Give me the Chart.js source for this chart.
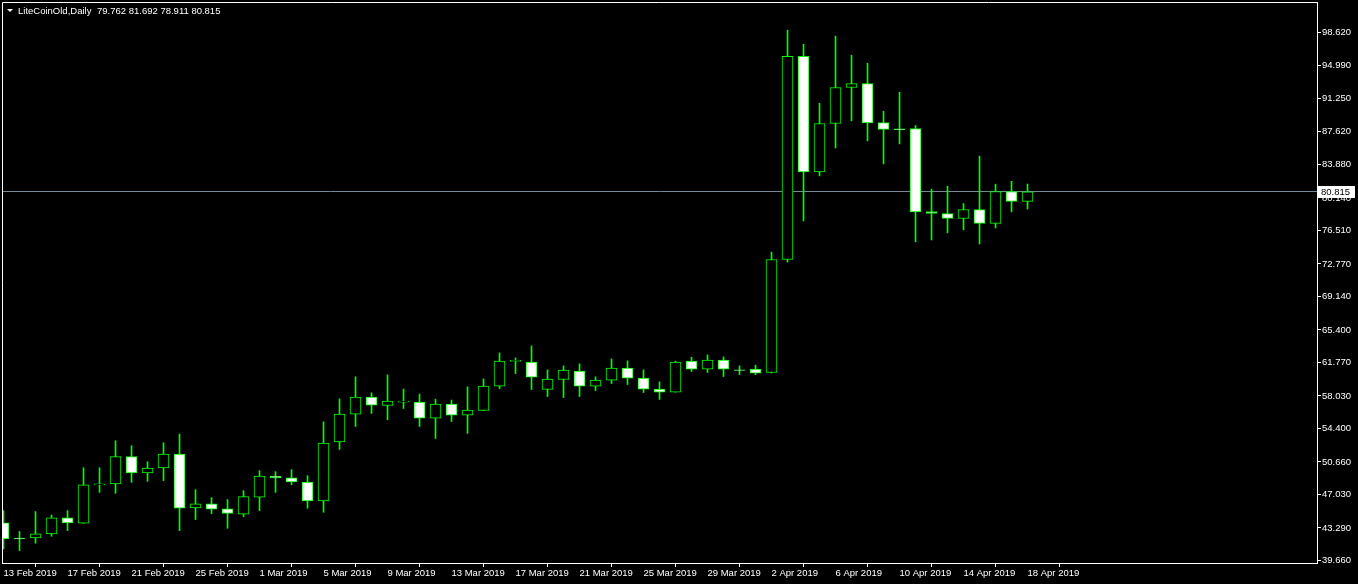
<!DOCTYPE html>
<html>
<head>
<meta charset="utf-8">
<script src="https://cdn.jsdelivr.net/npm/chart.js@4.4.1/dist/chart.umd.min.js"></script>
<style>
  html, body { margin: 0; padding: 0; background: #000; overflow: hidden; }
  canvas { display: block; }
</style>
</head>
<body>
<canvas id="chart" width="1358" height="584"></canvas>
<script>
const symbol = 'LiteCoinOld,Daily';

const days = [
  '13 Feb 2019', '14 Feb 2019', '15 Feb 2019', '16 Feb 2019', '17 Feb 2019', '18 Feb 2019', '19 Feb 2019', '20 Feb 2019',
  '21 Feb 2019', '22 Feb 2019', '23 Feb 2019', '24 Feb 2019', '25 Feb 2019', '26 Feb 2019', '27 Feb 2019', '28 Feb 2019',
  '1 Mar 2019', '2 Mar 2019', '3 Mar 2019', '4 Mar 2019', '5 Mar 2019', '6 Mar 2019', '7 Mar 2019', '8 Mar 2019',
  '9 Mar 2019', '10 Mar 2019', '11 Mar 2019', '12 Mar 2019', '13 Mar 2019', '14 Mar 2019', '15 Mar 2019', '16 Mar 2019',
  '17 Mar 2019', '18 Mar 2019', '19 Mar 2019', '20 Mar 2019', '21 Mar 2019', '22 Mar 2019', '23 Mar 2019', '24 Mar 2019',
  '25 Mar 2019', '26 Mar 2019', '27 Mar 2019', '28 Mar 2019', '29 Mar 2019', '30 Mar 2019', '31 Mar 2019', '1 Apr 2019',
  '2 Apr 2019', '3 Apr 2019', '4 Apr 2019', '5 Apr 2019', '6 Apr 2019', '7 Apr 2019', '8 Apr 2019', '9 Apr 2019',
  '10 Apr 2019', '11 Apr 2019', '12 Apr 2019', '13 Apr 2019', '14 Apr 2019', '15 Apr 2019', '16 Apr 2019', '17 Apr 2019',
  '18 Apr 2019'
];

const opens = [
  43.86, 42.17, 42.19, 42.63, 44.42, 43.82, 48.10, 48.21,
  51.25, 49.43, 49.99, 51.55, 45.53, 45.98, 45.42, 44.82,
  46.72, 49.10, 48.88, 48.43, 46.31, 52.89, 56.01, 57.90,
  56.97, 57.35, 57.35, 55.56, 57.12, 55.90, 56.42, 59.13,
  61.90, 61.81, 58.75, 59.87, 60.80, 59.13, 59.80, 61.14,
  60.02, 58.80, 58.46, 61.92, 61.03, 62.03, 60.95, 61.03,
  60.65, 73.27, 95.97, 83.05, 88.46, 92.48, 92.92, 88.57,
  87.85, 87.90, 78.63, 78.41, 77.85, 78.85, 77.29, 80.86,
  79.762
];
const highs = [
  45.23, 42.89, 45.12, 44.75, 45.23, 50.02, 50.02, 53.03,
  52.48, 50.69, 52.81, 53.78, 47.57, 46.68, 46.46, 47.46,
  49.69, 49.58, 49.80, 49.13, 55.15, 57.71, 60.17, 58.38,
  60.39, 58.80, 58.24, 57.68, 57.57, 59.05, 59.94, 62.84,
  62.28, 63.62, 60.95, 61.39, 61.62, 60.17, 62.17, 61.95,
  60.95, 59.61, 61.92, 62.36, 62.62, 62.40, 61.39, 61.47,
  74.09, 98.88, 97.31, 90.72, 98.21, 96.09, 95.19, 89.83,
  91.95, 88.23, 81.12, 81.46, 79.52, 84.81, 81.68, 82.01,
  81.692
];
const lows = [
  40.96, 40.77, 41.59, 42.37, 43.00, 43.80, 47.27, 47.16,
  48.39, 48.50, 48.58, 43.00, 44.23, 44.90, 43.26, 44.56,
  45.23, 47.27, 48.13, 45.49, 45.05, 52.06, 54.63, 56.08,
  55.37, 56.63, 54.63, 53.29, 55.18, 53.85, 56.40, 58.86,
  60.53, 58.75, 57.97, 57.86, 57.97, 58.64, 59.42, 59.31,
  58.42, 57.64, 58.46, 60.76, 60.65, 60.20, 60.42, 60.42,
  60.60, 73.00, 77.58, 82.61, 85.73, 88.75, 86.52, 83.95,
  86.18, 75.24, 75.46, 76.24, 76.58, 75.01, 76.80, 78.59,
  78.911
];
const closes = [
  42.08, 42.07, 42.63, 44.42, 43.86, 48.10, 48.22, 51.25,
  49.43, 49.99, 51.55, 45.49, 45.98, 45.38, 44.93, 46.79,
  49.10, 48.88, 48.43, 46.31, 52.78, 56.01, 57.90, 57.01,
  57.46, 57.45, 55.56, 57.12, 55.90, 56.46, 59.13, 61.92,
  62.00, 60.13, 59.91, 60.91, 59.13, 59.80, 61.14, 60.02,
  58.80, 58.46, 61.81, 61.03, 62.03, 61.03, 60.88, 60.58,
  73.27, 95.97, 83.05, 88.46, 92.48, 92.92, 88.53, 87.79,
  87.78, 78.59, 78.41, 77.85, 78.85, 77.29, 80.86, 79.75,
  80.815
];

const priceTicks = [98.62, 94.99, 91.25, 87.62, 83.88, 80.14, 76.51, 72.77, 69.14,
  65.40, 61.77, 58.03, 54.40, 50.66, 47.03, 43.29, 39.66];
const dateTicks = ['13 Feb 2019', '17 Feb 2019', '21 Feb 2019', '25 Feb 2019', '1 Mar 2019',
  '5 Mar 2019', '9 Mar 2019', '13 Mar 2019', '17 Mar 2019', '21 Mar 2019', '25 Mar 2019',
  '29 Mar 2019', '2 Apr 2019', '6 Apr 2019', '10 Apr 2019', '14 Apr 2019', '18 Apr 2019'];

const GREEN = '#00ff00';
const FONT = { family: '"Liberation Sans", Arial, sans-serif', size: 9.5 };
const last = closes.length - 1;

// frame, bid line, header text
const terminal = {
  id: 'terminal',
  beforeDatasetsDraw(chart) {
    const { ctx, chartArea: a } = chart;
    const y = Math.round(chart.scales.y.getPixelForValue(closes[last])) - 0.5;
    ctx.save();
    ctx.strokeStyle = '#778899';
    ctx.lineWidth = 1;
    ctx.beginPath();
    ctx.moveTo(a.left, y);
    ctx.lineTo(a.right, y);
    ctx.stroke();
    ctx.restore();
  },
  afterDraw(chart) {
    const { ctx, chartArea: a } = chart;
    ctx.save();
    ctx.strokeStyle = '#ffffff';
    ctx.lineWidth = 1;
    ctx.beginPath();
    ctx.moveTo(a.left + 0.5, a.bottom);
    ctx.lineTo(a.left + 0.5, a.top + 0.5);
    ctx.lineTo(a.right, a.top + 0.5);
    ctx.stroke();

    // last price tag on the axis
    const y = Math.round(chart.scales.y.getPixelForValue(closes[last]));
    ctx.fillStyle = '#ffffff';
    ctx.fillRect(a.right + 1, y - 6, 37, 12);
    ctx.fillStyle = '#000000';
    ctx.font = `${FONT.size}px ${FONT.family}`;
    ctx.textBaseline = 'middle';
    ctx.textAlign = 'left';
    ctx.fillText(closes[last].toFixed(3), a.right + 4, y);

    // header
    ctx.fillStyle = '#ffffff';
    ctx.beginPath();
    ctx.moveTo(7, 9);
    ctx.lineTo(13, 9);
    ctx.lineTo(10, 12);
    ctx.closePath();
    ctx.fill();
    ctx.fillText(symbol, 18, 11);
    const ohlc = [opens[last], highs[last], lows[last], closes[last]].map(v => v.toFixed(3)).join(' ');
    ctx.fillText(ohlc, 97, 11);
    ctx.restore();
  }
};

new Chart(document.getElementById('chart'), {
  type: 'bar',
  data: {
    datasets: [
      {
        label: 'body',
        data: days.map((d, i) => ({ x: i, y: [opens[i], closes[i]] })),
        backgroundColor: c => (closes[c.dataIndex] >= opens[c.dataIndex] ? '#000000' : '#ffffff'),
        borderColor: GREEN,
        borderWidth: 1,
        borderSkipped: false,
        barThickness: 11,
        grouped: false,
        order: 0,
      },
      {
        label: 'wick',
        data: days.map((d, i) => ({ x: i, y: [lows[i], highs[i]] })),
        backgroundColor: GREEN,
        borderWidth: 0,
        barThickness: 1,
        grouped: false,
        order: 1,
      },
    ],
  },
  options: {
    responsive: false,
    animation: false,
    devicePixelRatio: 1,
    layout: { padding: { left: 2, top: 2, right: 0, bottom: 0 } },
    plugins: { legend: { display: false }, tooltip: { enabled: false } },
    scales: {
      x: {
        type: 'linear',
        min: -0.09375,
        max: 82.09375,
        offset: false,
        grid: { drawOnChartArea: false, tickLength: 4, color: '#ffffff' },
        border: { color: '#ffffff' },
        ticks: {
          color: '#ffffff',
          font: FONT,
          align: 'start',
          padding: 1,
          maxRotation: 0,
          autoSkip: false,
          callback: v => days[v],
        },
        afterBuildTicks: s => { s.ticks = dateTicks.map(d => ({ value: days.indexOf(d) })); },
        afterFit: s => {
          s.height = 21;
          s.paddingLeft = 0;
          s.paddingRight = 0;
        },
      },
      y: {
        type: 'linear',
        position: 'right',
        min: 39.38,
        max: 102.026,
        grid: { drawOnChartArea: false, tickLength: 4, color: '#ffffff' },
        border: { color: '#ffffff' },
        ticks: {
          color: '#ffffff',
          font: FONT,
          padding: 1,
          callback: v => v.toFixed(3),
        },
        afterBuildTicks: s => { s.ticks = priceTicks.map(v => ({ value: v })); },
        afterFit: s => {
          s.width = 41;
          s.paddingTop = 0;
          s.paddingBottom = 0;
        },
      },
    },
  },
  plugins: [terminal],
});
</script>
</body>
</html>
